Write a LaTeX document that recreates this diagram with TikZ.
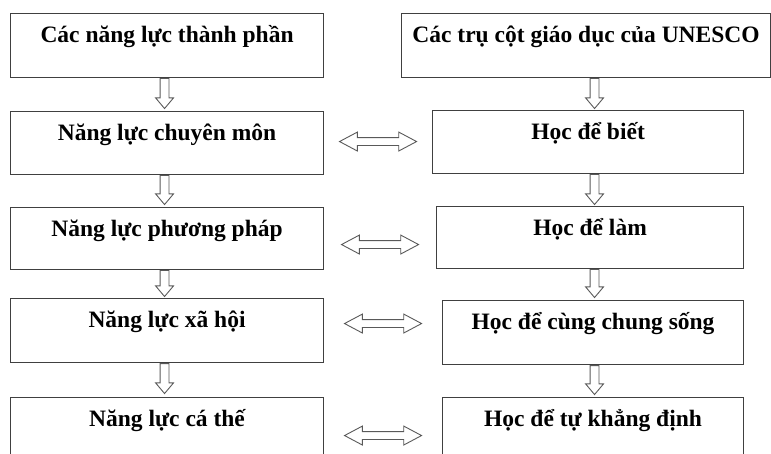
\documentclass[tikz,border=0pt]{standalone}
\usepackage{fontspec}
\setmainfont{Liberation Serif}
\usetikzlibrary{shapes.arrows}
\usetikzlibrary{calc}

\tikzset{
  box/.style={draw=black!75, line width=1.1pt, anchor=north west, inner xsep=0pt, inner ysep=0pt,
    text height=29pt, font=\bfseries\fontsize{23.5}{28}\selectfont},
  downarrow/.style={single arrow, draw=black!65, line width=0.9pt, rotate=-90, anchor=tail,
    inner xsep=0pt, inner ysep=4pt, minimum width=0pt, single arrow head extend=4.5pt, single arrow tip angle=80},
  bothways/.style={double arrow, draw=black!65, line width=0.9pt, inner xsep=0pt, inner ysep=3.5pt,
    minimum width=0pt, minimum height=77pt, double arrow head extend=5.5pt, double arrow tip angle=56}
}

\begin{document}
\begin{tikzpicture}[x=1pt, y=-1pt]
  \clip (0,0) rectangle (771,454);
  % left column
  \node[box, minimum width=313pt, text depth=35pt] (lbox1) at (10,13) {Các năng lực thành phần};
  \node[box, minimum width=313pt, text depth=34pt] (lbox2) at (10,111) {Năng lực chuyên môn};
  \node[box, minimum width=313pt, text depth=33pt] (lbox3) at (10,207) {Năng lực phương pháp};
  \node[box, minimum width=313pt, text depth=35pt] (lbox4) at (10,298) {Năng lực xã hội};
  \node[box, minimum width=313pt, text depth=41pt] (lbox5) at (10,397) {Năng lực cá thế};
  % right column
  \node[box, minimum width=369pt, text depth=35pt] (rbox1) at (401,13) {Các trụ cột giáo dục của UNESCO};
  \node[box, minimum width=311pt, text depth=34pt] (rbox2) at (432,110) {Học để biết};
  \node[box, minimum width=307pt, text depth=33pt] (rbox3) at (436,206) {Học để làm};
  \node[box, minimum width=301pt, text depth=35pt] (rbox4) at (442,300) {Học để cùng chung sống};
  \node[box, minimum width=301pt, text depth=41pt] (rbox5) at (442,397) {Học để tự khẳng định};

  % arrows down
  \node[downarrow, minimum height=30pt] (la1) at ([xshift=-2.5pt]lbox1.south) {};
  \node[downarrow, minimum height=29pt] (la2) at ([xshift=-2.5pt]lbox2.south) {};
  \node[downarrow, minimum height=26pt] (la3) at ([xshift=-2.5pt]lbox3.south) {};
  \node[downarrow, minimum height=30pt] (la4) at ([xshift=-2.5pt]lbox4.south) {};
  \node[downarrow, minimum height=30pt] (ra1) at ([xshift=8.5pt]rbox1.south) {};
  \node[downarrow, minimum height=30pt] (ra2) at ([xshift=6.5pt]rbox2.south) {};
  \node[downarrow, minimum height=28pt] (ra3) at ([xshift=4.5pt]rbox3.south) {};
  \node[downarrow, minimum height=29pt] (ra4) at ([xshift=1.5pt]rbox4.south) {};

  % arrows between columns
  \node[bothways] (link2) at ($(lbox2.east)!.5!(rbox2.west)+(0,-1)$) {};
  \node[bothways] (link3) at ($(lbox3.east)!.5!(rbox3.west)+(0,6.5)$) {};
  \node[bothways] (link4) at ($(lbox4.east)!.5!(rbox4.west)+(0,-8)$) {};
  \node[bothways] (link5) at ($(lbox5.east)!.5!(rbox5.west)+(0,3)$) {};
\end{tikzpicture}
\end{document}
